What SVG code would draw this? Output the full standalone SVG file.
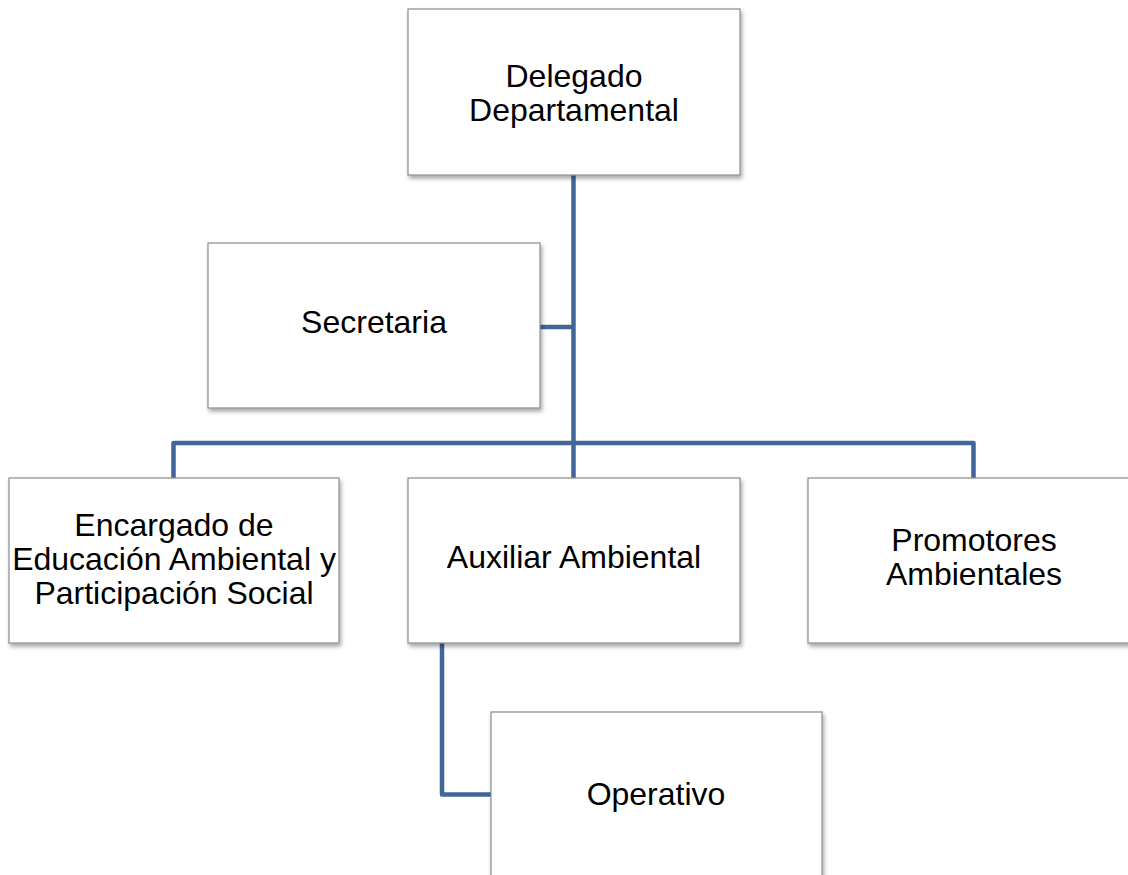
<svg xmlns="http://www.w3.org/2000/svg" width="1128" height="875" viewBox="0 0 1128 875">
<defs>
<filter id="sh" x="-10%" y="-10%" width="125%" height="130%">
<feDropShadow dx="1.5" dy="3" stdDeviation="2" flood-color="#000" flood-opacity="0.35"/>
</filter>
<style>
.box{fill:#fff;stroke:#8c8c8c;stroke-width:1.2;filter:url(#sh)}
.lbl{font-family:"Liberation Sans",Arial,sans-serif;font-size:32px;fill:#000;text-anchor:middle}
.con{fill:none;stroke:#41679a;stroke-width:4.5;stroke-linejoin:round}
</style>
</defs>
<rect width="1128" height="875" fill="#fff"/>
<g id="connectors">
<path class="con" d="M573.5 175 V478"/>
<path class="con" d="M540 327 H573.5"/>
<path class="con" d="M173.5 478 V443 H973.5 V478"/>
<path class="con" d="M442 643 V794.5 H491"/>
</g>
<g id="delegado">
<rect class="box" x="408" y="9" width="332" height="166"/>
<text class="lbl" x="574" y="87">Delegado</text>
<text class="lbl" x="574" y="121">Departamental</text>
</g>
<g id="secretaria">
<rect class="box" x="208" y="243" width="332" height="165"/>
<text class="lbl" x="374" y="333">Secretaria</text>
</g>
<g id="encargado">
<rect class="box" x="9" y="478" width="330" height="165"/>
<text class="lbl" x="174" y="536">Encargado de</text>
<text class="lbl" x="174" y="570">Educación Ambiental y</text>
<text class="lbl" x="174" y="604">Participación Social</text>
</g>
<g id="auxiliar">
<rect class="box" x="408" y="478" width="332" height="165"/>
<text class="lbl" x="574" y="568">Auxiliar Ambiental</text>
</g>
<g id="promotores">
<rect class="box" x="808" y="478" width="332" height="165"/>
<text class="lbl" x="974" y="551">Promotores</text>
<text class="lbl" x="974" y="585">Ambientales</text>
</g>
<g id="operativo">
<rect class="box" x="491" y="712" width="331" height="175"/>
<text class="lbl" x="656" y="805">Operativo</text>
</g>
</svg>
